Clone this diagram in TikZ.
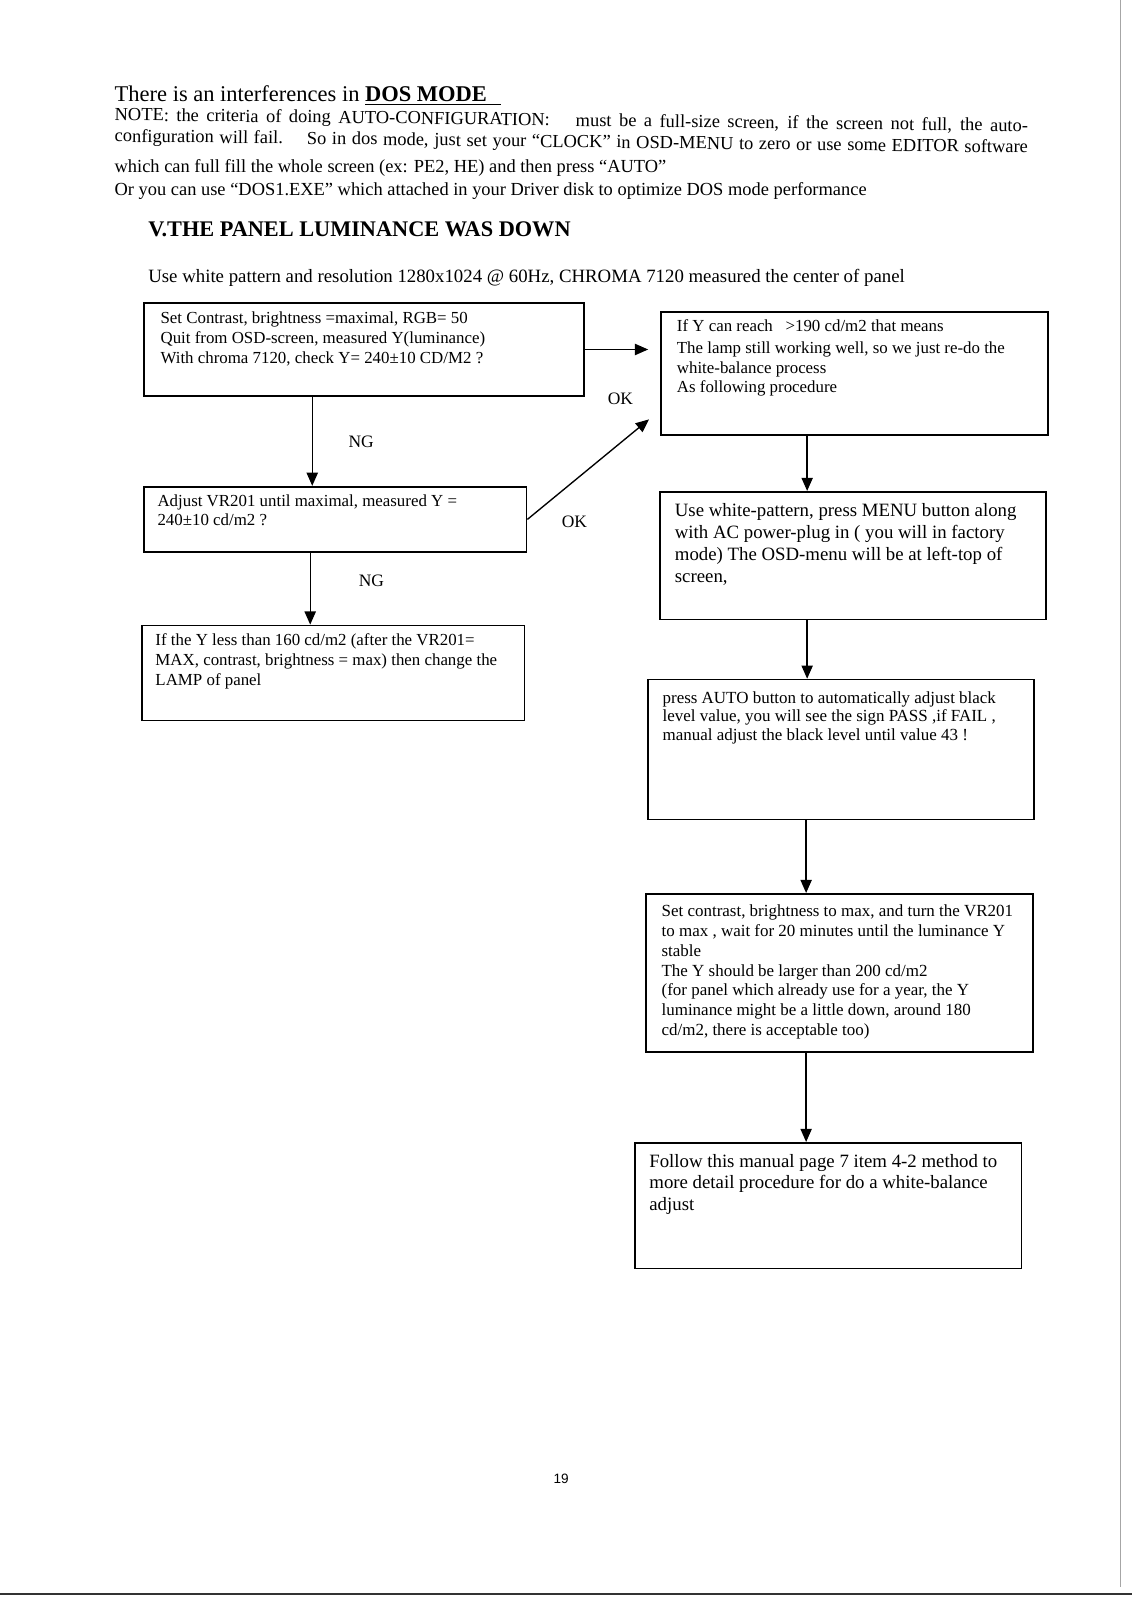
\documentclass[tikz,border=0pt]{standalone}
\usepackage{fontspec}
\setmainfont{Liberation Serif}
\newfontfamily\pagesans{Liberation Sans}
\usetikzlibrary{arrows.meta,fit}
\newcommand\boxtxt[3]{\parbox[t]{420pt}{\fontsize{#1}{#2}\selectfont\raggedright #3}}
\begin{document}
\begin{tikzpicture}[x=0.52625pt,y=-0.52625pt,
  box/.style={draw, line width=0.9pt, inner sep=0pt},
  txt/.style={anchor=base west, inner sep=0pt},
  arr/.style={line width=0.7pt, -{Triangle[length=6.8pt,width=5.8pt]}},
  lbl/.style={font=\fontsize{9}{10}\selectfont, inner sep=0pt}]
\useasboundingbox (0,0) rectangle (1109.4,1568);
\fill[white] (0,0) rectangle (1109.4,1568);

% header text
\node[txt, font=\fontsize{11.6}{13}\selectfont] (title) at (112,99)
  {There is an interferences in \underline{\textbf{DOS MODE}\hspace{7pt}}};
\node[txt, font=\fontsize{9.5}{11}\selectfont, rotate=-0.7] (n1) at (112,118)
  {\makebox[471pt][s]{NOTE: the criteria of doing AUTO-CONFIGURATION:\quad\ must be a full-size screen, if the screen not full, the auto-}};
\node[txt, font=\fontsize{9.5}{11}\selectfont, rotate=-0.7] (n2) at (112,139)
  {\makebox[471pt][s]{configuration will fail.\quad\ So in dos mode, just set your “CLOCK” in OSD-MENU to zero or use some EDITOR software}};
\node[txt, font=\fontsize{9.5}{11}\selectfont] (n3) at (112,169)
  {which can full fill the whole screen (ex: PE2, HE) and then press “AUTO”};
\node[txt, font=\fontsize{9.5}{11}\selectfont] (n4) at (112,192)
  {Or you can use “DOS1.EXE” which attached in your Driver disk to optimize DOS mode performance};
\node[txt, font=\fontsize{11.5}{13}\selectfont\bfseries] (head) at (145,232)
  {V.THE PANEL LUMINANCE WAS DOWN};
\node[txt, font=\fontsize{9.7}{11}\selectfont] (use) at (145,277)
  {Use white pattern and resolution 1280x1024 @ 60Hz, CHROMA 7120 measured the center of panel};

% boxes
\node[box, fit={(141,297)(572,388)}] (b1) {};
\node[box, fit={(648,306)(1027,426)}] (b2) {};
\node[box, fit={(141,477)(516,541)}] (b3) {};
\node[box, fit={(139,613)(514,706)}] (b4) {};
\node[box, fit={(647,482)(1025,607)}] (b5) {};
\node[box, fit={(635,666)(1013,803)}] (b6) {};
\node[box, fit={(633,876)(1012,1031)}] (b7) {};
\node[box, fit={(622,1120)(1001,1243)}] (b8) {};

% box texts
\node[txt] (t1) at (157,317) {\boxtxt{8.7}{10.26}{Set Contrast, brightness =maximal, RGB= 50\\
Quit from OSD-screen, measured Y(luminance)\\
With chroma 7120, check Y= 240±10 CD/M2 ?}};
\node[txt] (t2) at (663,325) {\boxtxt{8.7}{10.0}{If Y can reach \ \ >190 cd/m2 that means\\[1.5pt]
The lamp still working well, so we just re-do the\\
white-balance process\\
As following procedure}};
\node[txt] (t3) at (154,496) {\boxtxt{8.7}{10.0}{Adjust VR201 until maximal, measured Y =\\
240±10 cd/m2 ?}};
\node[txt] (t4) at (152,633) {\boxtxt{8.7}{10.26}{If the Y less than 160 cd/m2 (after the VR201=\\
MAX, contrast, brightness = max) then change the\\
LAMP of panel}};
\node[txt] (t5) at (661,506) {\boxtxt{9.7}{11.4}{Use white-pattern, press MENU button along\\
with AC power-plug in ( you will in factory\\
mode) The OSD-menu will be at left-top of\\
screen,}};
\node[txt] (t6) at (649,689) {\boxtxt{8.75}{9.75}{press AUTO button to automatically adjust black\\
level value, you will see the sign PASS ,if FAIL ,\\
manual adjust the black level until value 43 !}};
\node[txt] (t7) at (648,898) {\boxtxt{8.75}{10.26}{Set contrast, brightness to max, and turn the VR201\\
to max , wait for 20 minutes until the luminance Y\\
stable\\
The Y should be larger than 200 cd/m2\\
(for panel which already use for a year, the Y\\
luminance might be a little down, around 180\\
cd/m2, there is acceptable too)}};
\node[txt] (t8) at (636,1144) {\boxtxt{9.7}{11.05}{Follow this manual page 7 item 4-2 method to\\
more detail procedure for do a white-balance\\
adjust}};

% connector x positions
\coordinate (xa) at (306,0);
\coordinate (xb) at (304,0);
\coordinate (xc) at (791,0);
\coordinate (xd) at (790,0);
\coordinate (okend) at (636,411);

\draw[arr, shorten >=6.3pt] (b1.east) -- (b1.east -| b2.west);
\draw[arr] (b1.south -| xa) -- (b3.north -| xa);
\draw[arr] (b3.east) -- (okend);
\draw[arr] (b3.south -| xb) -- (b4.north -| xb);
\draw[arr] (b2.south -| xc) -- (b5.north -| xc);
\draw[arr] (b5.south -| xc) -- (b6.north -| xc);
\draw[arr] (b6.south -| xd) -- (b7.north -| xd);
\draw[arr] (b7.south -| xd) -- (b8.north -| xd);

% labels
\node[lbl] (ok1) at (608,391) {OK};
\node[lbl] (ng1) at (354,433) {NG};
\node[lbl] (ok2) at (563,511) {OK};
\node[lbl] (ng2) at (364,569) {NG};

% page number and scan borders
\node[font=\pagesans\fontsize{7}{8}\selectfont, inner sep=0pt] (pg) at (550,1449) {19};
\draw[line width=1.1pt, black!80] (0,1562) -- (1109.4,1562);
\draw[line width=0.3pt, black!35] (1097.6,0) -- (1097.6,1555);
\end{tikzpicture}
\end{document}
